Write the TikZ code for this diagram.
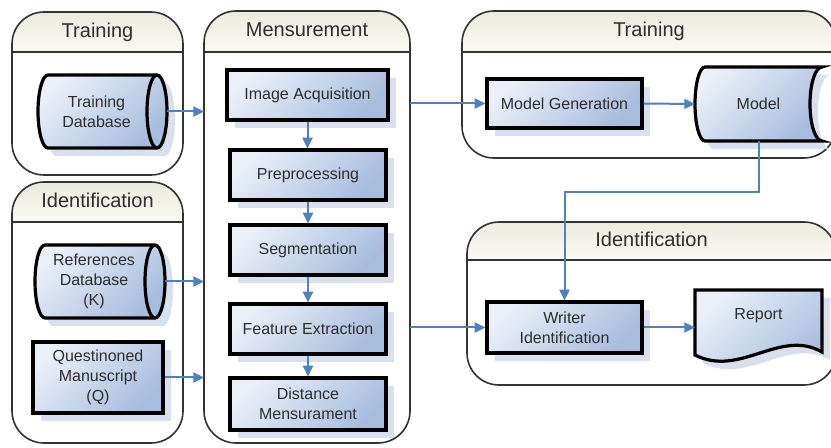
\documentclass[tikz,border=0pt]{standalone}
\usepackage{fontspec}
\setmainfont{Liberation Sans}
\usetikzlibrary{arrows.meta,shadows}

\definecolor{boxlight}{HTML}{EAEFF8}
\definecolor{boxdark}{HTML}{A7BDDD}
\definecolor{boxshade}{HTML}{D8E0EE}
\definecolor{lanetop}{HTML}{EBEBDF}
\definecolor{lanebot}{HTML}{FAFAF4}
\definecolor{laneline}{HTML}{333333}
\definecolor{flowblue}{HTML}{4F81BD}
\definecolor{labeltext}{HTML}{2E2E2E}

\tikzset{
  lane/.style={draw=laneline, line width=1.2pt, rounded corners=24pt, inner sep=0pt, outer sep=0pt},
  lanehead/.style={top color=lanetop, bottom color=lanebot},
  lanetitle/.style={font=\fontsize{15}{18}\selectfont, text=labeltext, inner sep=0pt, anchor=base},
  procbox/.style={draw=black, line width=2.4pt, top color=boxlight, bottom color=boxdark, shading angle=45,
    general shadow={fill=boxshade, shadow xshift=6pt, shadow yshift=-6pt},
    font=\fontsize{12}{15}\selectfont, text=labeltext, align=center, inner sep=0pt},
  shapeline/.style={draw=black, line width=2.4pt, top color=boxlight, bottom color=boxdark, shading angle=45},
  shapeshadow/.style={fill=boxshade, xshift=6pt, yshift=-6pt},
  shapetext/.style={font=\fontsize{12}{15}\selectfont, text=labeltext, align=center, inner sep=0pt, outer sep=0pt},
  flow/.style={draw=flowblue, line width=1.5pt, -{Triangle[length=8pt,width=7.5pt]}},
}

% node spanning a pixel box: style, name, x1, y1, x2, y2, text
\newcommand\spanbox[7]{%
  \pgfmathsetmacro\sbcx{(#3+#5)/2}%
  \pgfmathsetmacro\sbcy{(#4+#6)/2}%
  \pgfmathsetmacro\sbw{(#5-#3)*0.75}%
  \pgfmathsetmacro\sbh{(#6-#4)*0.75}%
  \node[#1, minimum width=\sbw pt, minimum height=\sbh pt] (#2) at (\sbcx,\sbcy) {#7};
}

% swimlane: name, x1, y1, x2, y2, header line y, title
\newcommand\swimlane[7]{%
  \begin{scope}
    \clip[rounded corners=24pt] (#2,#3) rectangle (#4,#5);
    \fill[lanehead] (#2,#3) rectangle (#4,#6);
  \end{scope}
  \spanbox{lane}{#1}{#2}{#3}{#4}{#5}{}
  \draw[laneline, line width=1.2pt] (#2,#6) -- (#4,#6);
  \node[lanetitle] (#1-title) at ({(#2+#4)/2},{(#3+#6)/2+5.5}) {#7};
}

% database drum: x1, y1, x2, y2
\newcommand\drum[4]{%
  \pgfmathsetmacro\drumry{(#4-#2)/2}
  \fill[shapeshadow] ({#1+10},#2) -- ({#3-10},#2)
    arc[start angle=-90, end angle=90, x radius=10, y radius=\drumry]
    -- ({#1+10},#4) arc[start angle=90, end angle=270, x radius=10, y radius=\drumry] -- cycle;
  \path[shapeline] ({#1+10},#2) -- ({#3-10},#2)
    arc[start angle=-90, end angle=90, x radius=10, y radius=\drumry]
    -- ({#1+10},#4) arc[start angle=90, end angle=270, x radius=10, y radius=\drumry] -- cycle;
  \draw[black, line width=2.4pt] ({#3-10},#2)
    arc[start angle=270, end angle=90, x radius=10, y radius=\drumry];
}

\begin{document}
\begin{tikzpicture}[x=0.75pt, y=-0.75pt]
\useasboundingbox (0,0) rectangle (831,448);
\begin{scope}
\clip (0,0) rectangle (831,448);
\fill[white] (0,0) rectangle (831,448);

% lanes
\swimlane{trainL}{12}{12}{183}{175}{52}{Training}
\swimlane{identL}{12}{182}{183}{443}{222}{Identification}
\swimlane{measlane}{204}{11}{410}{443}{52}{Mensurement}
\swimlane{trainR}{462}{11}{836}{158}{52}{Training}
\swimlane{identR}{467}{222}{836}{385}{260}{Identification}

% data sources
\drum{38}{75}{167}{148}
\spanbox{shapetext}{tdb}{38}{75}{155}{148}{Training\\Database}
\drum{35}{245}{165}{318}
\spanbox{shapetext}{refdb}{35}{245}{153}{318}{References\\Database\\(K)}
\spanbox{procbox}{quest}{33}{342}{163}{413}{Questinoned\\Manuscript\\(Q)}

% measurement steps
\spanbox{procbox}{imgacq}{227}{70}{388}{120}{Image Acquisition}
\spanbox{procbox}{prep}{230}{150}{386}{200}{Preprocessing}
\spanbox{procbox}{seg}{230}{225}{386}{275}{Segmentation}
\spanbox{procbox}{featx}{230}{304}{386}{354}{Feature Extraction}
\spanbox{procbox}{dist}{230}{378}{386}{430}{Distance\\Mensurament}

% training side
\spanbox{procbox}{modelgen}{487}{79}{642}{128}{Model Generation}
\fill[shapeshadow] (705,67) -- (822,67) arc[start angle=270, end angle=90, x radius=12, y radius=37]
  -- (705,141) arc[start angle=90, end angle=270, x radius=10, y radius=37] -- cycle;
\path[shapeline] (705,67) -- (822,67) arc[start angle=270, end angle=90, x radius=12, y radius=37]
  -- (705,141) arc[start angle=90, end angle=270, x radius=10, y radius=37] -- cycle;
\spanbox{shapetext}{model}{695}{67}{822}{141}{Model}

% identification side
\spanbox{procbox}{writer}{487}{302}{642}{353}{Writer\\Identification}
\fill[shapeshadow] (695,290) -- (822,290) -- (822,352)
  .. controls (780,328) and (740,378) .. (695,355) -- cycle;
\path[shapeline] (695,290) -- (822,290) -- (822,352)
  .. controls (780,328) and (740,378) .. (695,355) -- cycle;
\spanbox{shapetext}{report}{695}{290}{822}{342}{Report}

% connectors
\draw[flow] ([xshift=9pt]tdb.east) -- (tdb.east -| measlane.west);
\draw[flow] ([xshift=9pt]refdb.east) -- (refdb.east -| measlane.west);
\draw[flow] (quest.east) -- (quest.east -| measlane.west);
\foreach \a/\b in {imgacq/prep, prep/seg, seg/featx, featx/dist}
  \draw[flow] (\a.south) -- (\a.south |- \b.north);
\draw[flow] (measlane.east |- modelgen.west) -- (modelgen.west);
\draw[flow] (modelgen.east) -- (model.west);
\draw[flow] (model.south) -- ++(0,51) -| (writer.north);
\draw[flow] (measlane.east |- writer.west) -- (writer.west);
\draw[flow] (writer.east) -- (writer.east -| report.west);
\end{scope}
\end{tikzpicture}
\end{document}
